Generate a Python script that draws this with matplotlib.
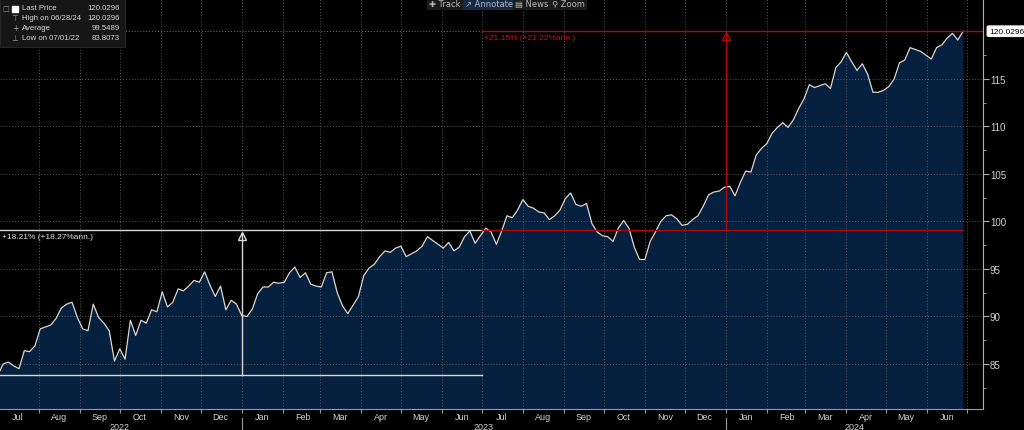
import matplotlib
matplotlib.use("Agg")
import matplotlib.pyplot as plt
import matplotlib.dates as mdates
import matplotlib.transforms as mtrans
from matplotlib.patches import Rectangle
import pandas as pd

# price series, one reading every 4 days from 07/01/22 to 06/28/24
start_date = "2022-07-01"
end_date = "2024-06-28"
prices = [
    83.81, 85.0, 85.2, 84.8, 84.5, 86.4, 86.3, 86.9, 88.7, 88.9,
    89.1, 89.8, 90.9, 91.3, 91.5, 89.9, 88.7, 88.5, 91.3, 89.9,
    89.3, 88.5, 85.3, 86.6, 85.5, 89.6, 88.0, 89.6, 89.3, 90.7,
    90.5, 92.6, 91.0, 91.5, 92.9, 92.7, 93.2, 93.8, 93.6, 94.7,
    93.3, 92.1, 93.2, 90.7, 91.7, 91.3, 90.1, 90.0, 90.8, 92.4,
    93.1, 93.1, 93.6, 93.5, 93.6, 94.6, 95.2, 94.1, 94.6, 93.4,
    93.2, 93.1, 94.6, 94.7, 92.5, 91.1, 90.3, 91.2, 92.1, 94.3,
    95.1, 95.5, 96.3, 96.9, 96.75, 97.2, 97.4, 96.3, 96.6, 96.9,
    97.4, 98.4, 98.0, 97.6, 97.2, 97.8, 96.9, 97.3, 98.4, 99.0,
    97.7, 98.5, 99.3, 98.9, 97.6, 99.0, 100.6, 100.4, 101.2, 102.3,
    101.6, 101.4, 101.0, 100.9, 100.2, 100.6, 101.2, 102.4, 103.0, 101.8,
    101.6, 101.9, 99.8, 98.9, 98.5, 98.4, 97.9, 99.3, 100.1, 99.3,
    97.3, 96.0, 96.0, 97.9, 98.9, 100.0, 100.6, 100.7, 100.3, 99.6,
    99.7, 100.2, 100.6, 101.6, 102.8, 103.1, 103.2, 103.6, 103.7, 102.7,
    104.1, 105.3, 105.2, 107.0, 107.7, 108.2, 109.3, 109.9, 110.4, 109.9,
    110.7, 111.9, 112.9, 114.4, 114.1, 114.3, 114.5, 114.0, 116.2, 116.8,
    117.8, 116.8, 115.9, 116.6, 115.5, 113.6, 113.6, 113.8, 114.2, 115.0,
    116.7, 117.0, 118.3, 118.1, 117.9, 117.5, 117.1, 118.3, 118.6, 119.3,
    119.8, 119.1, 120.0296,
]
dates = pd.date_range(start_date, end_date, freq="4D")

last_price = 120.0296
low_price = 83.8073
mid_level = 99.07
legend_rows = [("Last Price", "120.0296"), ("High on 06/28/24", "120.0296"),
               ("Average", "99.5489"), ("Low on 07/01/22", "83.8073")]
white_label = "+18.21% (+18.27%ann.)"
red_label = "+21.15% (+21.22%ann.)"
yticks = [85, 90, 95, 100, 105, 110, 115]

plt.rcParams["font.family"] = ["Liberation Sans", "DejaVu Sans"]

W, H = 1024, 431
fig = plt.figure(figsize=(W / 100, H / 100), dpi=100, facecolor="black")
ax = fig.add_axes([0, 21 / H, 983 / W, 410 / H], facecolor="black")

x0 = pd.Timestamp("2022-07-02 16:00")
x1 = pd.Timestamp("2024-07-13")
ybot, ytop = 80.26, 123.42
ax.set_xlim(x0, x1)
ax.set_ylim(ybot, ytop)

ax.fill_between(dates, prices, ybot, color="#06203f", lw=0, zorder=1)
ax.plot(dates, prices, color="#d8d8d8", lw=0.9, zorder=3)

# grid
ax.grid(True, which="major", color="#5a5a5a", ls=(0, (1, 2)), lw=0.7, zorder=2)
ax.set_axisbelow(False)

# last price dotted line
ax.axhline(last_price, color="#777777", ls=(0, (1, 2)), lw=0.7, zorder=2)

# annotations
red = "#b00808"
d_jan23 = pd.Timestamp("2023-01-01")
d_jul23 = pd.Timestamp("2023-07-01")
d_jan24 = pd.Timestamp("2024-01-01")
ax.plot([x0, d_jul23], [low_price, low_price], color="#d8d8d8", lw=1.0, zorder=4)
ax.plot([x0, d_jul23], [mid_level, mid_level], color="#d8d8d8", lw=1.0, zorder=4)
ax.plot([d_jan23, d_jan23], [low_price, mid_level - 0.3], color="#d8d8d8", lw=1.0, zorder=4)
ax.plot([d_jan23], [mid_level - 0.55], marker="^", ms=6, mfc="none", mec="#d8d8d8", mew=1.0, zorder=5)
ax.text(pd.Timestamp("2022-07-04"), mid_level - 0.3, white_label, color="#e0e0e0",
        fontsize=6, va="top", ha="left", zorder=5)

ax.plot([d_jul23, dates[-1]], [mid_level, mid_level], color=red, lw=1.0, zorder=4)
ax.plot([d_jul23, x1], [last_price, last_price], color=red, lw=1.0, zorder=4)
ax.plot([d_jan24, d_jan24], [mid_level, last_price - 0.3], color=red, lw=1.0, zorder=4)
ax.plot([d_jan24], [last_price - 0.55], marker="^", ms=6, mfc="none", mec=red, mew=1.0, zorder=5)
ax.text(pd.Timestamp("2023-07-03"), last_price - 0.3, red_label, color="#d01010",
        fontsize=6, va="top", ha="left", zorder=5)

# axes styling
for s in ["top", "left"]:
    ax.spines[s].set_visible(False)
ax.spines["bottom"].set_color("#9a9a9a")
ax.spines["right"].set_color("#b0b0b0")
ax.yaxis.tick_right()
ax.set_yticks(yticks)
ax.set_yticks([v + 2.5 for v in yticks] + [yticks[0] - 2.5], minor=True)
ax.tick_params(axis="y", which="major", colors="#b0b0b0", labelcolor="#d0d0d0",
               labelsize=7, length=4, pad=1)
ax.tick_params(axis="y", which="minor", colors="#b0b0b0", length=2)

ax.xaxis.set_major_locator(mdates.MonthLocator())
ax.xaxis.set_major_formatter(plt.NullFormatter())
ax.xaxis.set_minor_locator(mdates.MonthLocator(bymonthday=16))
ax.xaxis.set_minor_formatter(mdates.DateFormatter("%b"))
ax.tick_params(axis="x", which="major", colors="#9a9a9a", length=3)
ax.tick_params(axis="x", which="minor", length=0, labelsize=6.5, labelcolor="#d0d0d0", pad=2)

# year labels and separators
trans = mtrans.blended_transform_factory(ax.transData, ax.transAxes)
for label, d in [("2022", "2022-10-01"), ("2023", "2023-07-02"), ("2024", "2024-04-07")]:
    ax.text(pd.Timestamp(d), -0.031, label, transform=trans, ha="center", va="top",
            fontsize=6.5, color="#d0d0d0")
for d in [d_jan23, d_jan24]:
    ax.plot([d, d], [-0.022, -0.05], transform=trans, color="#9a9a9a", lw=0.8, clip_on=False)

# last price box
ytrans = mtrans.blended_transform_factory(ax.transAxes, ax.transData)
ax.text(1.006, last_price, "120.0296", transform=ytrans, ha="left", va="center",
        fontsize=6, color="black",
        bbox=dict(boxstyle="round,pad=0.2", fc="white", ec="white"))


def fx(px):
    return px / W


def fy(py):
    return 1 - py / H


# legend box
fig.patches.append(Rectangle((0, fy(48)), fx(125), 48 / H, transform=fig.transFigure,
                             fc="#161616", ec="#2a2a2a", lw=0.6, zorder=10))
icons = ["", "\u22a4", "+", "\u22a5"]
for i, (name, val) in enumerate(legend_rows):
    y = 9 + i * 9.7
    fig.text(fx(22), fy(y), name, fontsize=5.6, color="#d8d8d8", va="center", zorder=11)
    fig.text(fx(120), fy(y), val, fontsize=5.6, color="#d8d8d8", va="center", ha="right", zorder=11)
    if icons[i]:
        fig.text(fx(15), fy(y), icons[i], fontsize=5.5, color="#9a9a9a", va="center", ha="center",
                 family=["DejaVu Sans"], zorder=11)
fig.patches.append(Rectangle((fx(12), fy(13)), fx(6), 6 / H, transform=fig.transFigure,
                             fc="white", ec="white", zorder=11))
fig.text(fx(6), fy(9), "\u25a1", fontsize=5, color="#9a9a9a", va="center", ha="center",
         family=["DejaVu Sans"], zorder=11)

# toolbar
tools = [("\u271a Track", 445, "#1a1a1a"), ("\u2197 Annotate", 489, "#142a48"),
         ("\u25a4 News", 532, "#1a1a1a"), ("\u26b2 Zoom", 568, "#1a1a1a")]
for label, cx, bg in tools:
    fig.text(fx(cx), fy(4.5), label, fontsize=6, color="#b8b8b8", ha="center", va="center",
             family=["DejaVu Sans"], zorder=11,
             bbox=dict(boxstyle="square,pad=0.25", fc=bg, ec="none"))

fig.savefig("out.png", dpi=100, facecolor="black")
